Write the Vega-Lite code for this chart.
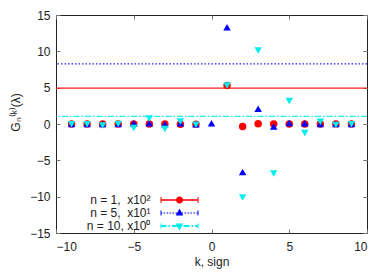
{
  "$schema": "https://vega.github.io/schema/vega-lite/v6.json",
  "width": 311,
  "height": 218,
  "autosize": "none",
  "padding": {"left": 56, "top": 15, "right": 22, "bottom": 40},
  "background": "white",
  "config": {
    "view": {"stroke": "#222", "strokeWidth": 1},
    "font": "Liberation Sans",
    "axis": {
      "grid": false,
      "domain": false,
      "tickColor": "#777",
      "tickSize": -4,
      "labelFontSize": 12,
      "labelColor": "#222",
      "labelFont": "Liberation Sans",
      "titleFontSize": 12,
      "titleFontWeight": "normal",
      "titleColor": "#222",
      "titleFont": "Liberation Sans"
    }
  },
  "datasets": {
    "lines": [
      {"s": "n1", "v": 4.95},
      {"s": "n5", "v": 8.27},
      {"s": "n10", "v": 1.04}
    ],
    "pts": [
      {"s": "n1", "k": -9, "v": 0},
      {"s": "n1", "k": -8, "v": 0},
      {"s": "n1", "k": -7, "v": 0},
      {"s": "n1", "k": -6, "v": 0},
      {"s": "n1", "k": -5, "v": 0},
      {"s": "n1", "k": -4, "v": 0},
      {"s": "n1", "k": -3, "v": 0},
      {"s": "n1", "k": -2, "v": -0.05},
      {"s": "n1", "k": -1, "v": -0.05},
      {"s": "n1", "k": 1, "v": 5.3},
      {"s": "n1", "k": 2, "v": -0.35},
      {"s": "n1", "k": 3, "v": 0.05},
      {"s": "n1", "k": 4, "v": 0},
      {"s": "n1", "k": 5, "v": 0},
      {"s": "n1", "k": 6, "v": 0},
      {"s": "n1", "k": 7, "v": 0},
      {"s": "n1", "k": 8, "v": 0},
      {"s": "n1", "k": 9, "v": 0},
      {"s": "n5", "k": -9, "v": 0},
      {"s": "n5", "k": -8, "v": 0},
      {"s": "n5", "k": -7, "v": 0},
      {"s": "n5", "k": -6, "v": 0},
      {"s": "n5", "k": -5, "v": 0.1},
      {"s": "n5", "k": -4, "v": 0.1},
      {"s": "n5", "k": -3, "v": -0.05},
      {"s": "n5", "k": -2, "v": 0.1},
      {"s": "n5", "k": -1, "v": -0.05},
      {"s": "n5", "k": 0, "v": 0.1},
      {"s": "n5", "k": 1, "v": 13.3},
      {"s": "n5", "k": 2, "v": -6.6},
      {"s": "n5", "k": 3, "v": 2.1},
      {"s": "n5", "k": 4, "v": -0.35},
      {"s": "n5", "k": 5, "v": 0.15},
      {"s": "n5", "k": 6, "v": 0.1},
      {"s": "n5", "k": 7, "v": 0},
      {"s": "n5", "k": 8, "v": 0},
      {"s": "n5", "k": 9, "v": 0},
      {"s": "n10", "k": -9, "v": -0.05},
      {"s": "n10", "k": -8, "v": -0.05},
      {"s": "n10", "k": -7, "v": -0.2},
      {"s": "n10", "k": -6, "v": 0},
      {"s": "n10", "k": -5, "v": -0.55},
      {"s": "n10", "k": -4, "v": 0.75},
      {"s": "n10", "k": -3, "v": -0.7},
      {"s": "n10", "k": -2, "v": 0.35},
      {"s": "n10", "k": -1, "v": -0.1},
      {"s": "n10", "k": 1, "v": 5.3},
      {"s": "n10", "k": 2, "v": -10.1},
      {"s": "n10", "k": 3, "v": 10.1},
      {"s": "n10", "k": 4, "v": -6.8},
      {"s": "n10", "k": 5, "v": 3.15},
      {"s": "n10", "k": 6, "v": -1.25},
      {"s": "n10", "k": 7, "v": 0.3},
      {"s": "n10", "k": 8, "v": -0.15},
      {"s": "n10", "k": 9, "v": -0.05}
    ]
  },
  "layer": [
    {
      "data": {"name": "lines"},
      "mark": {"type": "rule", "strokeWidth": 1.3},
      "encoding": {
        "y": {
          "field": "v",
          "type": "quantitative",
          "scale": {"domain": [-15, 15], "nice": false, "zero": false},
          "axis": {
            "orient": "left",
            "values": [-15, -10, -5, 0, 5, 10, 15],
            "title": "Gₙ⁽ᵏ⁾(λ)",
            "titleX": -41,
            "titleY": 97,
            "titleAngle": -90,
            "titleAlign": "center",
            "titleBaseline": "middle",
            "labelPadding": 10
          }
        },
        "stroke": {
          "field": "s",
          "type": "nominal",
          "scale": {"domain": ["n5", "n1", "n10"], "range": ["#2020ff", "#ff2020", "#20eeee"]},
          "legend": null
        },
        "strokeDash": {
          "field": "s",
          "type": "nominal",
          "scale": {"domain": ["n5", "n10", "n1"], "range": [[1.5, 2], [6, 2, 1.5, 2], [1, 0]]},
          "legend": null
        }
      }
    },
    {
      "data": {"name": "pts"},
      "transform": [{"filter": "datum.s === 'n1'"}],
      "mark": {"type": "point", "filled": true, "opacity": 1, "size": 56},
      "encoding": {
        "x": {
          "field": "k",
          "type": "quantitative",
          "scale": {"domain": [-10, 10], "nice": false, "zero": false},
          "axis": {"orient": "bottom", "values": [-10, -5, 0, 5, 10], "title": "k, sign", "labelPadding": 12, "titlePadding": 4}
        },
        "y": {
          "field": "v",
          "type": "quantitative",
          "axis": {"orient": "right", "values": [-15, -10, -5, 0, 5, 10, 15], "labels": false, "title": null}
        },
        "color": {
          "field": "s",
          "type": "nominal",
          "scale": {"domain": ["n1", "n5", "n10"], "range": ["#ff0000", "#0000ff", "#00eeee"]},
          "legend": {
            "orient": "none",
            "legendX": 117.5,
            "legendY": 179,
            "title": null,
            "padding": 0,
            "rowPadding": 1,
            "labelAlign": "right",
            "labelOffset": -35,
            "labelFontSize": 12,
            "labelFont": "Liberation Sans",
            "labelColor": "#222",
            "symbolSize": 100,
            "symbolType": {"expr": "datum.value === 'n1' ? 'M-3.8,-0.15H3.8V0.15H-3.8Z M-3.8,-0.6H-3.6V0.6H-3.8Z M3.6,-0.6H3.8V0.6H3.6Z M-0.7,0A0.7,0.7 0 1,1 0.7,0A0.7,0.7 0 1,1 -0.7,0Z' : datum.value === 'n5' ? 'M-3.8,-0.1h0.3v0.2h-0.3Z M-3.2,-0.1h0.3v0.2h-0.3Z M-2.6,-0.1h0.3v0.2h-0.3Z M-2.0,-0.1h0.3v0.2h-0.3Z M-1.4,-0.1h0.3v0.2h-0.3Z M-0.8,-0.1h0.3v0.2h-0.3Z M-0.2,-0.1h0.3v0.2h-0.3Z M0.4,-0.1h0.3v0.2h-0.3Z M1.0,-0.1h0.3v0.2h-0.3Z M1.6,-0.1h0.3v0.2h-0.3Z M2.2,-0.1h0.3v0.2h-0.3Z M2.8,-0.1h0.3v0.2h-0.3Z M3.4,-0.1h0.3v0.2h-0.3Z M-3.8,-0.5H-3.6V0.5H-3.8Z M3.6,-0.5H3.8V0.5H3.6Z M0,-0.9L0.75,0.5L-0.75,0.5Z' : 'M-3.8,-0.18H-2.6V0.18H-3.8Z M-2.2,-0.18H-1.9V0.18H-2.2Z M-1.5,-0.18H-0.3V0.18H-1.5Z M0.1,-0.18H0.4V0.18H0.1Z M0.8,-0.18H2.0V0.18H0.8Z M2.4,-0.18H2.7V0.18H2.4Z M3.1,-0.18H3.8V0.18H3.1Z M-3.8,-0.5H-3.6V0.5H-3.8Z M3.6,-0.5H3.8V0.5H3.6Z M-0.75,-0.5L0.75,-0.5L0,0.9Z'"},
            "labelExpr": "datum.value === 'n1' ? 'n = 1,\u00a0 x10²' : datum.value === 'n5' ? 'n = 5,\u00a0 x10¹' : 'n = 10, x10⁰'"
          }
        },
        "shape": {
          "field": "s",
          "type": "nominal",
          "scale": {"domain": ["n10", "n5", "n1"], "range": ["triangle-down", "triangle-up", "circle"]},
          "legend": null
        }
      }
    },
    {
      "data": {"name": "pts"},
      "transform": [{"filter": "datum.s !== 'n1'"}],
      "mark": {"type": "point", "filled": true, "opacity": 1, "size": 56},
      "encoding": {
        "x": {
          "field": "k",
          "type": "quantitative",
          "axis": {"orient": "top", "values": [-10, -5, 0, 5, 10], "labels": false, "title": null}
        },
        "y": {
          "field": "v",
          "type": "quantitative",
          "axis": {"orient": "right", "values": [-15, -10, -5, 0, 5, 10, 15], "labels": false, "title": null}
        },
        "color": {"field": "s", "type": "nominal"},
        "shape": {"field": "s", "type": "nominal", "legend": null}
      }
    }
  ]
}
